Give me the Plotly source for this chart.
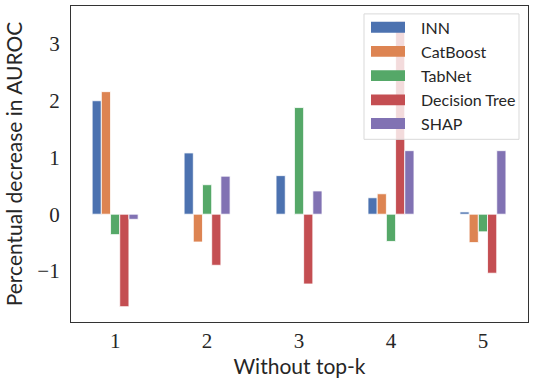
import plotly.graph_objects as go

categories = [1, 2, 3, 4, 5]
series_names = ["INN", "CatBoost", "TabNet", "Decision Tree", "SHAP"]
inn = [2.00, 1.08, 0.68, 0.29, 0.04]
catboost = [2.16, -0.49, 0.0, 0.36, -0.50]
tabnet = [-0.36, 0.52, 1.88, -0.48, -0.31]
decision_tree = [-1.63, -0.90, -1.23, 3.40, -1.04]
shap = [-0.09, 0.67, 0.41, 1.12, 1.12]
y_ticks = [-1, 0, 1, 2, 3]
y_tick_labels = ["\u22121", "0", "1", "2", "3"]

values = [inn, catboost, tabnet, decision_tree, shap]
colors = ["#4C72B0", "#DD8452", "#55A868", "#C44E52", "#8172B3"]

fig = go.Figure()
for name, vals, col in zip(series_names, values, colors):
    fig.add_trace(go.Bar(x=categories, y=vals, name=name, marker_color=col,
                         marker_line_color="white", marker_line_width=0.8,
                         showlegend=False))

W, H = 539, 379
ml, mr, mt, mb = 71, 11, 5, 54
pw, ph = W - ml - mr, H - mt - mb

def px(x):
    return (x - ml) / pw

def py(y):
    return (H - mb - y) / ph

shapes = []
annotations = []
# custom legend box
shapes.append(dict(type="rect", xref="paper", yref="paper", layer="above",
                   x0=px(364), x1=px(519), y0=py(140), y1=py(13),
                   fillcolor="rgba(255,255,255,0.8)", line=dict(color="#d9d9d9", width=1)))
row_y = [26.5, 51, 75.5, 100, 124]
for name, col, ry in zip(series_names, colors, row_y):
    shapes.append(dict(type="rect", xref="paper", yref="paper", layer="above",
                       x0=px(371), x1=px(405), y0=py(ry + 5.5), y1=py(ry - 5.5),
                       fillcolor=col, line=dict(width=0)))
    annotations.append(dict(xref="paper", yref="paper", x=px(419), y=py(ry),
                            xanchor="left", yanchor="middle", text=name, showarrow=False,
                            font=dict(family="Lato", size=16, color="#262626")))

fig.update_layout(
    width=W, height=H,
    margin=dict(l=ml, r=mr, t=mt, b=mb),
    barmode="group", bargap=0.5, bargroupgap=0,
    plot_bgcolor="white", paper_bgcolor="white",
    shapes=shapes, annotations=annotations,
    showlegend=False,
)
fig.update_xaxes(range=[0.52, 5.49], tickvals=categories, ticktext=[str(c) for c in categories],
                 showline=True, mirror=True, linecolor="#333333", linewidth=1.3,
                 showgrid=False, zeroline=False, ticks="",
                 tickfont=dict(family="Liberation Serif", size=21, color="#262626"),
                 title=dict(text="Without top-k", standoff=6,
                            font=dict(family="Lato", size=21, color="#262626")))
fig.update_yaxes(range=[-1.90, 3.67], tickvals=y_ticks, ticktext=y_tick_labels,
                 showline=True, mirror=True, linecolor="#333333", linewidth=1.3,
                 showgrid=False, zeroline=False, ticks="", ticklabelstandoff=6,
                 tickfont=dict(family="Liberation Serif", size=21, color="#262626"),
                 title=dict(text="Percentual decrease in AUROC", standoff=8,
                            font=dict(family="Lato", size=21, color="#262626")))

fig.write_html("out.html")
